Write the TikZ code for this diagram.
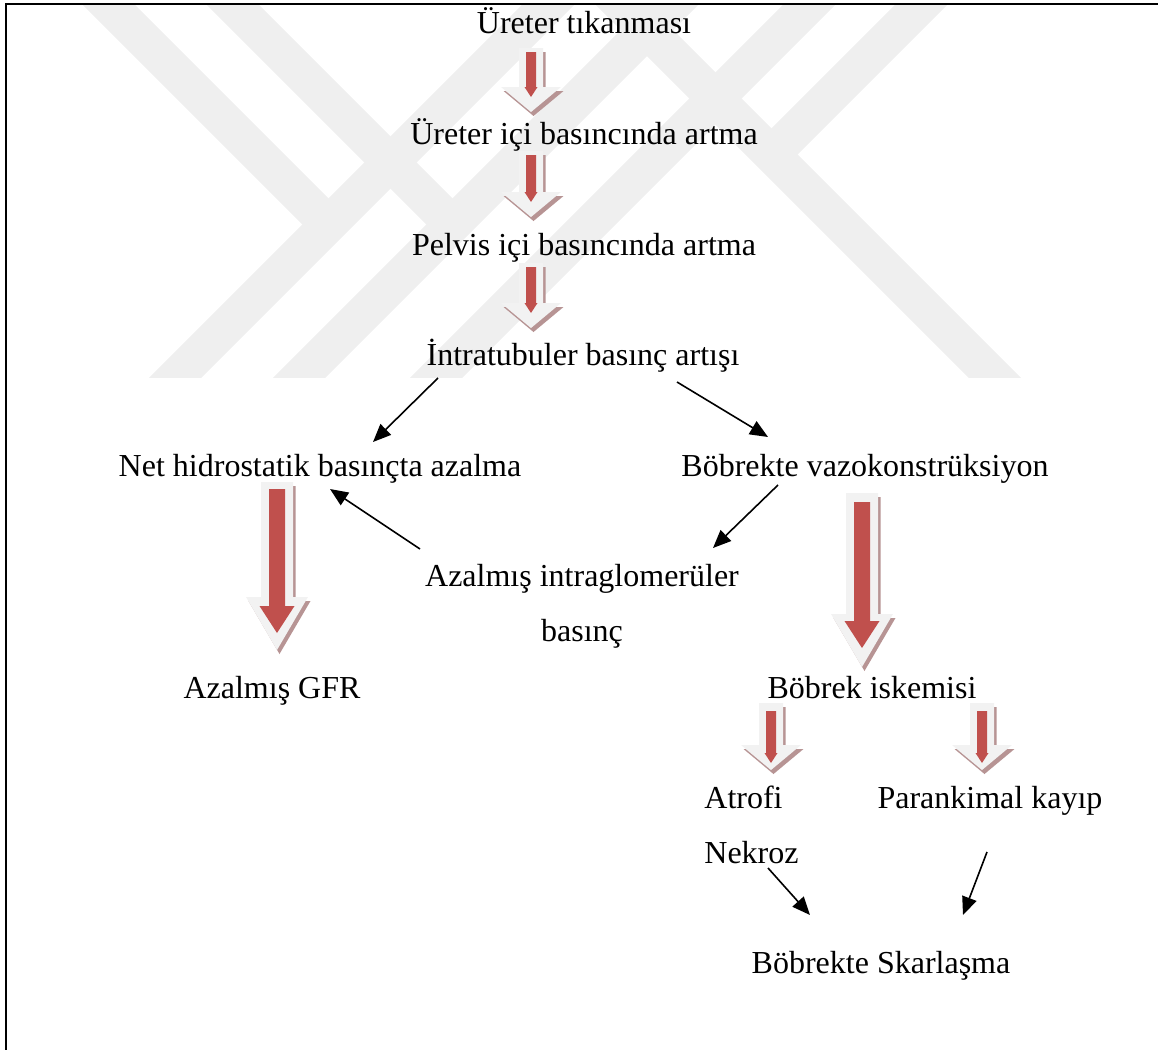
\documentclass[tikz,border=0pt]{standalone}
\usepackage{fontspec}
\setmainfont{Liberation Serif}
\usetikzlibrary{arrows.meta,positioning}

\definecolor{arrowred}{HTML}{C0504D}
\definecolor{arrowgrey}{HTML}{F2F2F2}
\definecolor{arrowshade}{RGB}{183,148,148}
\definecolor{markgrey}{HTML}{EFEFEF}

\tikzset{
  label/.style={font=\fontsize{16}{27.5}\selectfont, inner sep=0pt, anchor=base},
  thin arrow/.style={-{Triangle[length=9pt,width=7.5pt]}, line width=0.8pt},
  stripe/.style={draw=markgrey, line width=18.5pt, miter limit=20},
}

% block arrow outline: x, top, tip, shaft half width, head half width, head length
\newcommand{\arrowpath}[6]{(#1-#4,#2) -- (#1+#4,#2) -- (#1+#4,#3-#6) -- (#1+#5,#3-#6)
  -- (#1,#3) -- (#1-#5,#3-#6) -- (#1-#4,#3-#6) -- cycle}
% shaded block arrow: x, top, tip, inner top, inner tip
\newcommand{\fatarrow}[5]{%
  \fill[arrowshade] \arrowpath{#1+2.5}{#2+4}{#3+4}{\sw}{\hw}{\hl};
  \fill[arrowgrey] \arrowpath{#1}{#2}{#3}{\sw}{\hw}{\hl};
  \fill[arrowred] \arrowpath{#1}{#4}{#5}{\isw}{\ihw}{\ihl};}

\begin{document}
\begin{tikzpicture}[x=0.5pt, y=-0.5pt]
\useasboundingbox (0,0) rectangle (1158,1050);

% watermark
\begin{scope}
\clip (7,5) rectangle (1158,377);
\draw[stripe] (593,-40) -- (133,420);
\draw[stripe] (717,-40) -- (257,420);
\draw[stripe] (854,-40) -- (394,420);
\draw[stripe] (577,-40) -- (1037,420);
\draw[stripe] (64,-40) -- (328.5,224.5);
\draw[stripe] (188,-40) -- (452.5,224.5);
\draw[stripe] (966,-40) -- (771.5,154.5);
\end{scope}

% frame
\draw[line width=1.2pt] (6,1050) -- (6,4) -- (1158,4);

% texts
\node[label] (ureter) at (584,33) {Üreter tıkanması};
\node[label] (ureterici) at (584,144) {Üreter içi basıncında artma};
\node[label] (pelvis) at (584,255) {Pelvis içi basıncında artma};
\node[label] (intra) at (583,365) {İntratubuler basınç artışı};
\node[label] (net) at (320,476) {Net hidrostatik basınçta azalma};
\node[label] (vazo) at (865,476) {Böbrekte vazokonstrüksiyon};
\node[label, align=center, anchor=north] (glom) at (582,564)
  {Azalmış intraglomerüler\\basınç};
\node[label] (gfr) at (272,698) {Azalmış GFR};
\node[label] (iskemi) at (872,698) {Böbrek iskemisi};
\node[label, anchor=base west] (atrofi) at (704,808) {Atrofi};
\node[label, anchor=base west] (nekroz) at (704,863) {Nekroz};
\node[label] (parenkim) at (990,808) {Parankimal kayıp};
\node[label] (skar) at (881,973) {Böbrekte Skarlaşma};

% small block arrows
\def\sw{12}\def\hw{30}\def\hl{25}\def\isw{5}\def\ihw{6.5}\def\ihl{10}
\fatarrow{531}{48}{112}{52}{97}
\fatarrow{531}{151}{217}{155}{202}
\fatarrow{531}{263}{328}{267}{313}
\fatarrow{771}{703}{770}{711}{763}
\fatarrow{982}{703}{770}{711}{763}

% big block arrows
\def\sw{16}\def\hw{31}\def\hl{53}\def\isw{8}\def\ihw{17.5}\def\ihl{27}
\fatarrow{277}{482}{650}{489}{633}
\fatarrow{862}{493}{667}{502}{648}

% thin arrows
\coordinate (a1) at (438,378); \coordinate (b1) at (373,442);
\coordinate (a2) at (677,382); \coordinate (b2) at (768,437);
\coordinate (a3) at (420,549); \coordinate (b3) at (330,489);
\coordinate (a4) at (778,485); \coordinate (b4) at (713,548);
\coordinate (a5) at (768,868); \coordinate (b5) at (810,915);
\coordinate (a6) at (987,852); \coordinate (b6) at (963,915);
\foreach \s/\t in {a1/b1, a2/b2, a3/b3, a4/b4, a5/b5, a6/b6}
  \draw[thin arrow] (\s) -- (\t);
\end{tikzpicture}
\end{document}
